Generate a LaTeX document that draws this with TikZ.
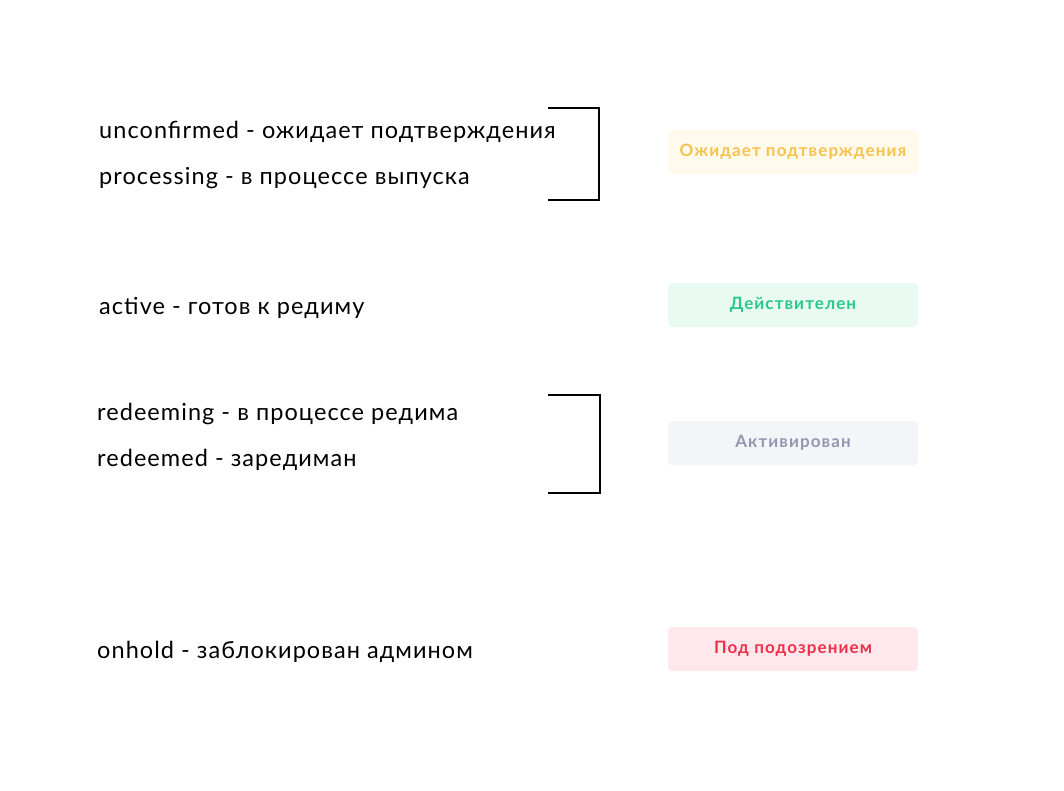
\documentclass[tikz,border=0pt]{standalone}
\usepackage{fontspec}
\setmainfont{Lato}
\newfontfamily\lblfont[LetterSpace=4.5]{Lato}
\newfontfamily\bdgfont[LetterSpace=6.5]{Lato}
\definecolor{yelfill}{HTML}{FFFAEB}
\definecolor{yeltext}{HTML}{F7C24E}
\definecolor{grnfill}{HTML}{E8FAF2}
\definecolor{grntext}{HTML}{2CC88A}
\definecolor{gryfill}{HTML}{F3F5F9}
\definecolor{grytext}{HTML}{9398B0}
\definecolor{redfill}{HTML}{FFE8EC}
\definecolor{redtext}{HTML}{EE304D}
\begin{document}
\begin{tikzpicture}[x=1pt,y=-1pt,
  lbl/.style={anchor=west,inner sep=0pt,font=\lblfont\fontsize{23.5}{27}\selectfont,text=black},
  badge/.style={rectangle,rounded corners=4pt,minimum width=250pt,minimum height=44pt,inner sep=0pt,font=\bdgfont\fontsize{17}{20}\selectfont\bfseries},
  brk/.style={draw=black,line width=1.3pt}]
\useasboundingbox (0,0) rectangle (1064,790);
\fill[white] (0,0) rectangle (1064,790);
% labels
\node[lbl] (l1) at (99,132) {unconfirmed - ожидает подтверждения};
\node[lbl] (l2) at (99,178) {processing - в процессе выпуска};
\node[lbl] (l3) at (99,308) {active - готов к редиму};
\node[lbl] (l4) at (97,414) {redeeming - в процессе редима};
\node[lbl] (l5) at (97,460) {redeemed - заредиман};
\node[lbl] (l6) at (97,652) {onhold - заблокирован админом};
% badges
\node[badge,fill=yelfill,text=yeltext] (b1) at (793,152) {Ожидает подтверждения};
\node[badge,fill=grnfill,text=grntext] (b2) at (793,305) {Действителен};
\node[badge,fill=gryfill,text=grytext] (b3) at (793,443) {Активирован};
\node[badge,fill=redfill,text=redtext] (b4) at (793,649) {Под подозрением};
% brackets
\coordinate (k1a) at (548,108);
\coordinate (k1b) at (599,108);
\coordinate (k1c) at (599,200);
\coordinate (k1d) at (548,200);
\draw[brk] (k1a) -- (k1b) -- (k1c) -- (k1d);
\coordinate (k2a) at (548,395);
\coordinate (k2b) at (600,395);
\coordinate (k2c) at (600,493);
\coordinate (k2d) at (548,493);
\draw[brk] (k2a) -- (k2b) -- (k2c) -- (k2d);
\end{tikzpicture}
\end{document}
